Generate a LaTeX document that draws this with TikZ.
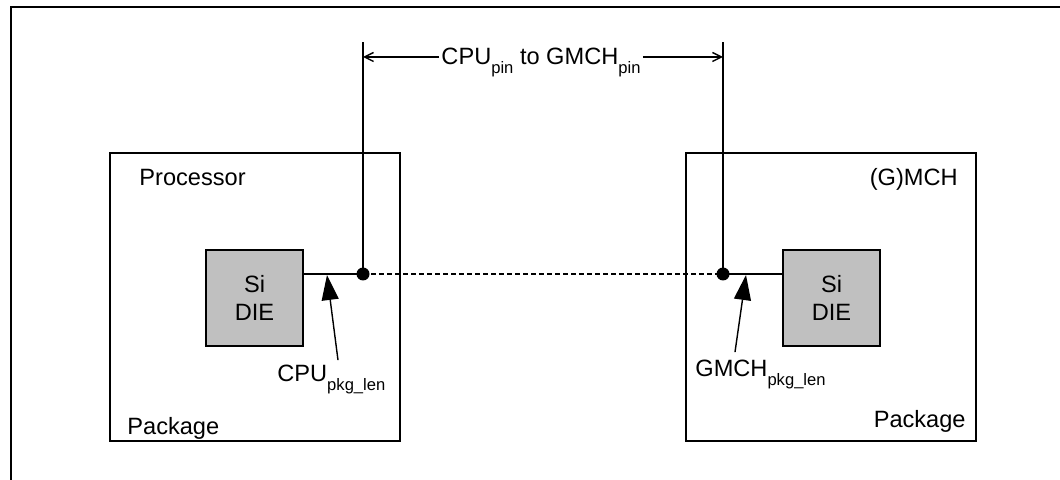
\documentclass[tikz,border=0pt]{standalone}
\usepackage{fontspec}
\setmainfont{Liberation Sans}
\usepackage{xcolor}
\usetikzlibrary{arrows.meta, positioning, calc}

\definecolor{dieGray}{HTML}{C0C0C0}
\newcommand{\lowtxt}[1]{\raisebox{-0.65ex}{\fontsize{8.3}{9}\selectfont #1}}

\begin{document}
\begin{tikzpicture}[
  x=0.5pt, y=-0.5pt,
  pkgbox/.style={rectangle, draw, line width=0.7pt, minimum width=145pt, minimum height=144pt, inner sep=0pt},
  diebox/.style={rectangle, draw, fill=dieGray, line width=0.7pt, minimum width=48.5pt, minimum height=48pt, inner sep=0pt, align=center, font=\fontsize{11.8}{14}\selectfont},
  pindot/.style={circle, fill, inner sep=0pt, minimum size=6.5pt},
  txt/.style={font=\fontsize{11.8}{14}\selectfont, inner sep=0pt},
  wire/.style={line width=0.8pt},
  dimarr/.style={line width=0.7pt, -{Straight Barb[length=4.5pt, width=4.5pt]}},
  lenarr/.style={line width=0.7pt, -{Triangle[length=12.5pt, width=8.5pt]}}
]
\useasboundingbox (0,0) rectangle (1060,480);
% outer frame (top and left edges only)
\draw[line width=1.3pt] (11,480) -- (11,7) -- (1060,7);

% packages and dies
\node[pkgbox] (proc) at (255,297) {};
\node[pkgbox] (gmch) at (831,297) {};
\node[diebox] (diel) at (254.5,298) {Si\\DIE};
\node[diebox] (dier) at (831.5,298) {Si\\DIE};
\node[txt, anchor=base west] (proclbl) at (139,186) {Processor};
\node[txt, anchor=base east] (gmchlbl) at (958,186) {(G)MCH};
\node[txt, anchor=base west] (pkgl) at (127,435) {Package};
\node[txt, anchor=base east] (pkgr) at (966,428) {Package};

% pins and trace
\node[pindot] (dotl) at (363,274) {};
\node[pindot] (dotr) at (723,274) {};
\draw[wire] (diel.east |- dotl) -- (dotl.center);
\draw[wire] (dier.west |- dotr) -- (dotr.center);
\draw[wire, dash pattern=on 2.5pt off 1.5pt] (dotl.center) -- (dotr.center);

% dimension CPU pin to GMCH pin
\coordinate (topl) at (363,42);
\coordinate (topr) at (723,42);
\coordinate (dimy) at (0,57);
\draw[wire] (dotl.center) -- (topl);
\draw[wire] (dotr.center) -- (topr);
\node[txt, anchor=base] (dimtxt) at (541,65) {CPU\lowtxt{pin} to GMCH\lowtxt{pin}};
\draw[dimarr] ([xshift=-1pt]dimtxt.west |- dimy) -- (topl |- dimy);
\draw[dimarr] ([xshift=1pt]dimtxt.east |- dimy) -- (topr |- dimy);

% package lengths
\node[txt, anchor=base west] (cpulen) at (277,382) {CPU\lowtxt{pkg\_len}};
\node[txt, anchor=base west] (gmchlen) at (695,377) {GMCH\lowtxt{pkg\_len}};
\coordinate (tipl) at (327,275);
\coordinate (tipr) at (746,275);
\draw[lenarr] (cpulen.north -| 338,0) ++(0,-5) -- (tipl);
\draw[lenarr] (gmchlen.north -| 735,0) ++(0,-8) -- (tipr);
\end{tikzpicture}
\end{document}
